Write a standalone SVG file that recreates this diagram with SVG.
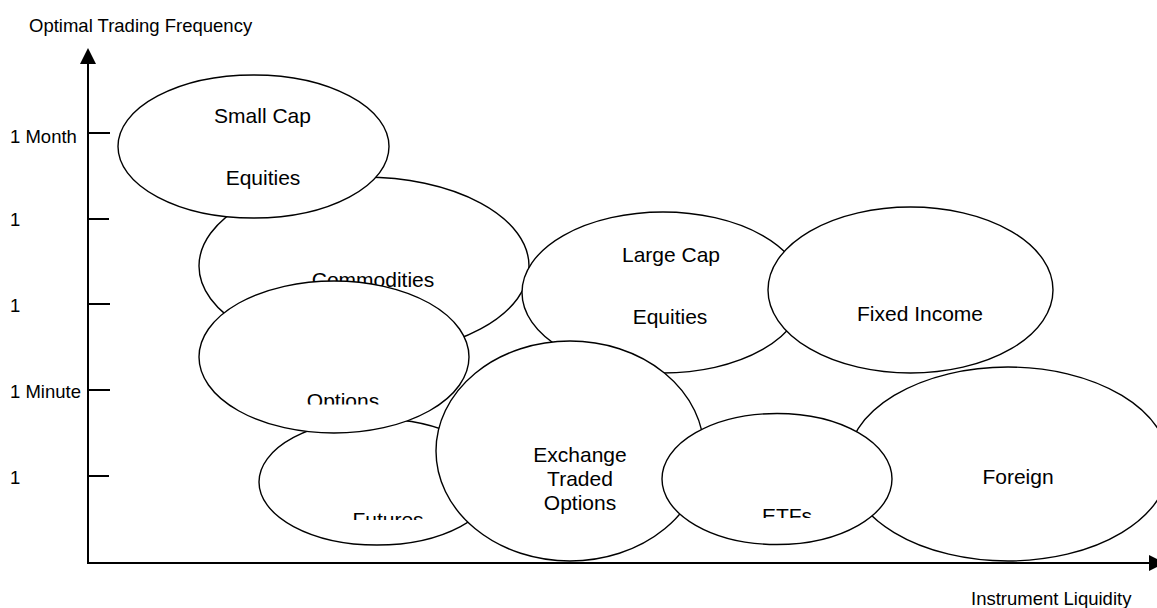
<svg xmlns="http://www.w3.org/2000/svg" width="1157" height="608" viewBox="0 0 1157 608">
<style>
text { font-family: "Liberation Sans", Arial, sans-serif; fill: #000; }
.lbl { font-size: 21px; text-anchor: middle; }
.ax { font-size: 18.5px; }
.node ellipse { fill: #fff; stroke: #000; stroke-width: 1.4; }
.axis { stroke: #000; stroke-width: 2; fill: none; }
.tick { stroke: #000; stroke-width: 2; }
</style>
<defs>
<marker id="arr" viewBox="0 0 16 16" refX="0" refY="8" markerWidth="16" markerHeight="16" markerUnits="userSpaceOnUse" orient="auto">
<path d="M0,0 L16,8 L0,16 Z" fill="#000"/>
</marker>
<clipPath id="clipOptions"><rect x="250" y="380" width="200" height="24.5"/></clipPath>
<clipPath id="clipFutures"><rect x="300" y="495" width="200" height="25"/></clipPath>
<clipPath id="clipETFs"><rect x="700" y="495" width="200" height="23"/></clipPath>
</defs>
<rect width="1157" height="608" fill="#fff"/>
<g id="connectors">
<line class="axis" x1="88" y1="564" x2="88" y2="64" marker-end="url(#arr)"/>
<line class="axis" x1="87" y1="563" x2="1149" y2="563" marker-end="url(#arr)"/>
<line class="tick" x1="88" y1="133" x2="110" y2="133"/>
<line class="tick" x1="88" y1="219" x2="109" y2="219"/>
<line class="tick" x1="88" y1="304" x2="110" y2="304"/>
<line class="tick" x1="88" y1="390" x2="110" y2="390"/>
<line class="tick" x1="88" y1="476" x2="109" y2="476"/>
</g>
<g id="axis-labels">
<text class="ax" x="29" y="31.5">Optimal Trading Frequency</text>
<text class="ax" x="971" y="605">Instrument Liquidity</text>
<text class="ax" x="10" y="143">1 Month</text>
<text class="ax" x="10" y="226">1</text>
<text class="ax" x="10" y="312">1</text>
<text class="ax" x="10" y="398">1 Minute</text>
<text class="ax" x="10" y="484">1</text>
</g>
<g id="node-commodities" class="node">
<ellipse cx="364" cy="266" rx="165" ry="89"/>
<text class="lbl" x="373" y="287">Commodities</text>
</g>
<g id="node-large-cap" class="node">
<ellipse cx="663" cy="292.5" rx="141" ry="80.5"/>
<text class="lbl" x="671" y="262">Large Cap</text>
<text class="lbl" x="670" y="324">Equities</text>
</g>
<g id="node-fixed-income" class="node">
<ellipse cx="910.5" cy="290" rx="142.5" ry="83"/>
<text class="lbl" x="920" y="320.5">Fixed Income</text>
</g>
<g id="node-futures" class="node">
<ellipse cx="377" cy="482" rx="118" ry="63"/>
<text class="lbl" x="388" y="527" clip-path="url(#clipFutures)">Futures</text>
</g>
<g id="node-options" class="node">
<ellipse cx="334" cy="357" rx="135" ry="76"/>
<text class="lbl" x="343" y="408" clip-path="url(#clipOptions)">Options</text>
</g>
<g id="node-small-cap" class="node">
<ellipse cx="253.5" cy="146.5" rx="135.5" ry="71.5"/>
<text class="lbl" x="262.5" y="122.5">Small Cap</text>
<text class="lbl" x="263" y="185">Equities</text>
</g>
<g id="node-foreign" class="node">
<ellipse cx="1008" cy="464" rx="161" ry="97"/>
<text class="lbl" x="1018" y="484">Foreign</text>
</g>
<g id="node-exchange-traded-options" class="node">
<ellipse cx="570" cy="451" rx="134" ry="110"/>
<text class="lbl" x="580" y="462">Exchange</text>
<text class="lbl" x="580" y="486">Traded</text>
<text class="lbl" x="580" y="510">Options</text>
</g>
<g id="node-etfs" class="node">
<ellipse cx="777" cy="479" rx="115" ry="65.5"/>
<text class="lbl" x="787" y="523" clip-path="url(#clipETFs)">ETFs</text>
</g>
</svg>
